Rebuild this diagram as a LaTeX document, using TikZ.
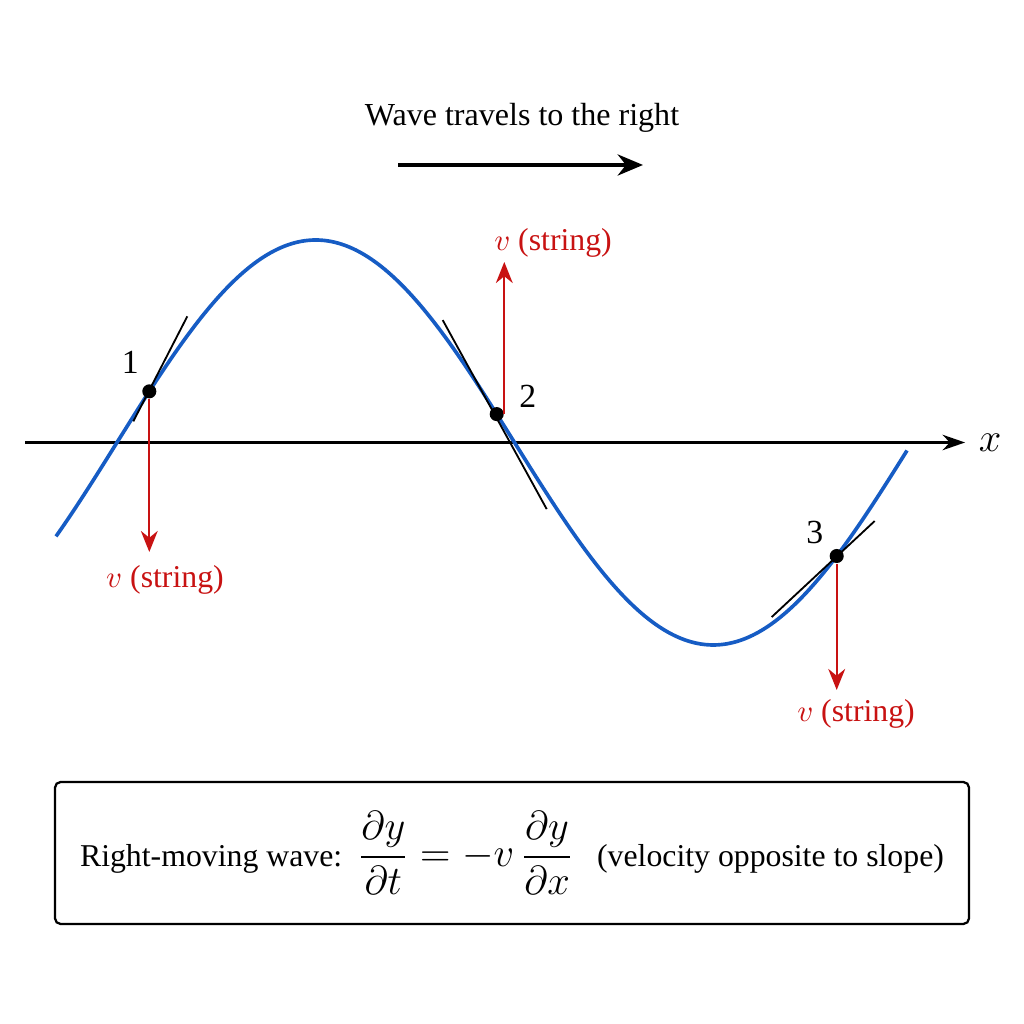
\documentclass[tikz,border=0pt]{standalone}
\usepackage{fontspec}
\setmainfont{Liberation Serif}
\usepackage{amsmath}
\usetikzlibrary{arrows.meta,positioning,calc}
\definecolor{waveblue}{RGB}{22,92,196}
\definecolor{velred}{RGB}{200,18,18}

\begin{document}
\begin{tikzpicture}[x=1.25cm,y=1.25cm,
  wave/.style={waveblue, line width=1.3pt},
  tang/.style={black, line width=0.65pt},
  dot/.style={circle, fill=black, inner sep=0pt, minimum size=5pt},
  vel/.style={velred, line width=0.75pt, -{Stealth[length=7.5pt,width=6pt]}},
  vlab/.style={velred, font=\fontsize{11.3}{13}\selectfont},
  numlab/.style={font=\fontsize{12}{14}\selectfont}]

  \useasboundingbox (0,4.425) rectangle (10.24,-5.815);

  \def\amp{2.025} % amplitude
  \def\per{7.95}  % wavelength
  \def\xz{1.17}   % zero crossing

  %% title and direction arrow
  \node [font=\fontsize{11.4}{13}\selectfont] (title) at (5.22,3.245) {Wave travels to the right};
  \coordinate (DIR1) at (3.98,2.775);
  \coordinate (DIR2) at (6.43,2.775);
  \draw[line width=1.4pt, -{Stealth[length=9pt,width=7.5pt]}] (DIR1) -- (DIR2);

  %% x axis
  \coordinate (XL) at (0.25,0);
  \coordinate (XR) at (9.65,0);
  \draw[line width=0.85pt, -{Stealth[length=8pt,width=5.5pt]}] (XL) -- (XR);
  \node [font=\fontsize{14}{16}\selectfont] (xlab) at (9.90,0) {$x$};

  %% the string
  \draw[wave] plot[domain=0.56:9.07, samples=150, smooth] (\x, {\amp*sin(360*(\x-\xz)/\per)});

  %% sample points
  \coordinate (P1) at (1.493, {\amp*sin(360*(1.493-\xz)/\per)});
  \coordinate (P2) at (4.967, {\amp*sin(360*(4.967-\xz)/\per)});
  \coordinate (P3) at (8.367, {\amp*sin(360*(8.367-\xz)/\per)});

  % tangents
  \draw[tang] ($(P1)+(-0.16,-0.30)$) -- ($(P1)+(0.38,0.75)$);
  \draw[tang] ($(P2)+(-0.54,0.94)$) -- ($(P2)+(0.50,-0.95)$);
  \draw[tang] ($(P3)+(-0.65,-0.61)$) -- ($(P3)+(0.38,0.35)$);

  \node [dot] (D1) at (P1) {};
  \node [dot] (D2) at (P2) {};
  \node [dot] (D3) at (P3) {};

  \node [numlab] (N1) at ($(P1)+(-0.19,0.29)$) {1};
  \node [numlab] (N2) at ($(P2)+(0.31,0.18)$) {2};
  \node [numlab] (N3) at ($(P3)+(-0.22,0.24)$) {3};

  %% string velocity
  \coordinate (T1) at (P1 |- 0,-1.095);
  \coordinate (T2) at (D2.east |- 0,1.805);
  \coordinate (T3) at (P3 |- 0,-2.475);
  \draw[vel] (D1) -- (T1);
  \draw[vel] (D2.east) -- (T2);
  \draw[vel] (D3) -- (T3);

  \node [vlab] (V1) at (1.65,-1.375) {$v$ (string)};
  \node [vlab] (V2) at (5.53,1.995) {$v$ (string)};
  \node [vlab] (V3) at (8.56,-2.715) {$v$ (string)};

  %% relation
  \node [draw, line width=0.8pt, rounded corners=2pt, minimum width=11.425cm, minimum height=1.775cm,
         font=\fontsize{11.3}{13}\selectfont] (relation) at (5.12,-4.105)
    {Right-moving wave:\ \ {\fontsize{13.8}{16}\selectfont$\displaystyle \frac{\partial y}{\partial t} = -v\,\frac{\partial y}{\partial x}$}\ \ \ (velocity opposite to slope)};
\end{tikzpicture}
\end{document}
